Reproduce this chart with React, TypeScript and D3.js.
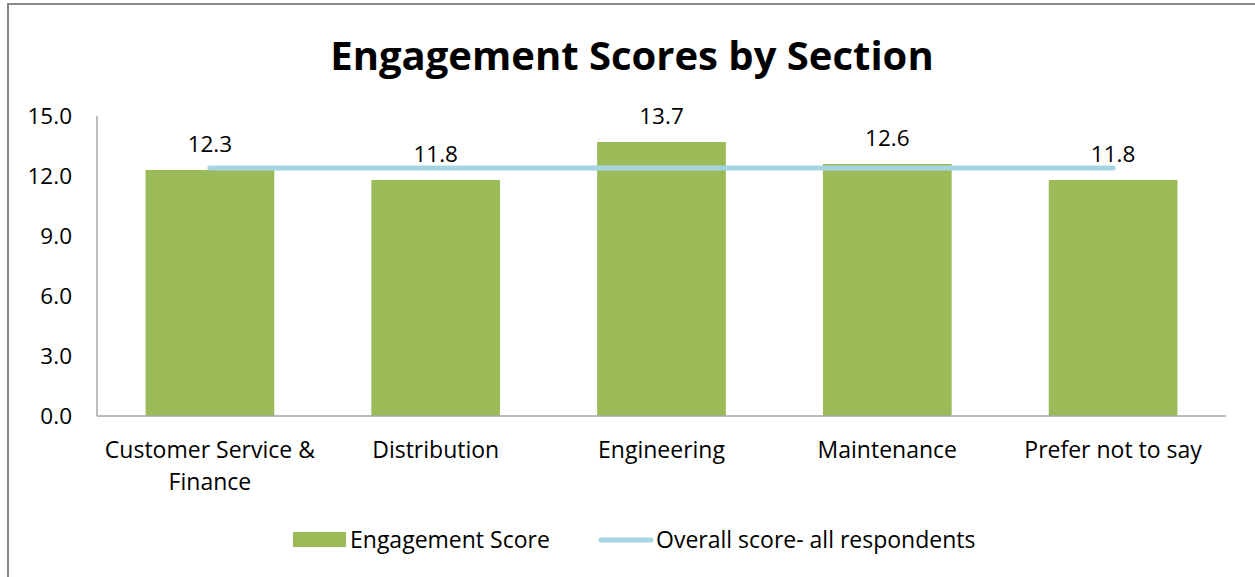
import React from 'react';
import * as d3 from 'd3';

const sections = ['Customer Service & Finance', 'Distribution', 'Engineering', 'Maintenance', 'Prefer not to say'];
const engagementScores = [12.3, 11.8, 13.7, 12.6, 11.8];
const overallScore = 12.4;
const yTicks = [0, 3, 6, 9, 12, 15];

const W = 1255;
const H = 577;
const margin = { top: 116, right: 29, bottom: 161, left: 97 };
const FONT = '"Open Sans", "Noto Sans", sans-serif';

// split long category labels the way the original wraps them
const wrapLabel = (s: string) => (s === 'Customer Service & Finance' ? ['Customer Service &', 'Finance'] : [s]);

const App = () => {
  const innerW = W - margin.left - margin.right;
  const innerH = H - margin.top - margin.bottom;

  const x = d3.scaleBand().domain(sections).range([0, innerW]).paddingInner(0.43).paddingOuter(0.215);
  const y = d3.scaleLinear().domain([0, 15]).range([innerH, 0]);

  const xCenter = (s: string) => (x(s) || 0) + x.bandwidth() / 2;
  const line = d3.line<string>().x(d => xCenter(d)).y(() => y(overallScore));

  return (
    <svg width={W} height={H} style={{ position: 'absolute', left: 0, top: 0, background: '#fff' }}>
      {/* chart frame */}
      <rect x={8} y={4} width={W + 10} height={H + 10} fill="none" stroke="#878787" strokeWidth={2} />

      <text x={632} y={70} textAnchor="middle" fontFamily={FONT} fontWeight="bold" fontSize={40} fill="#000">
        Engagement Scores by Section
      </text>

      <g transform={`translate(${margin.left},${margin.top})`}>
        {/* y axis labels */}
        {yTicks.map(t => (
          <text key={t} x={-25} y={y(t)} dy="0.35em" textAnchor="end" fontFamily={FONT} fontSize={22.5} fill="#000">
            {t.toFixed(1)}
          </text>
        ))}

        {/* bars */}
        {sections.map((s, i) => (
          <rect key={s} x={x(s)} y={y(engagementScores[i])} width={x.bandwidth()}
            height={innerH - y(engagementScores[i])} fill="#9BBB59" />
        ))}

        {/* overall line */}
        <path d={line(sections) || ''} fill="none" stroke="#A5D5E2" strokeWidth={5} strokeLinecap="round" />

        {/* data labels */}
        {sections.map((s, i) => (
          <text key={s} x={xCenter(s)} y={y(engagementScores[i]) - 18} textAnchor="middle"
            fontFamily={FONT} fontSize={22.5} fill="#000">
            {engagementScores[i].toFixed(1)}
          </text>
        ))}

        {/* axes lines */}
        <line x1={0} x2={0} y1={0} y2={innerH} stroke="#A6A6A6" strokeWidth={1.5} />
        <line x1={0} x2={innerW} y1={innerH} y2={innerH} stroke="#A6A6A6" strokeWidth={1.5} />

        {/* category labels */}
        {sections.map(s => (
          <text key={s} x={xCenter(s)} y={innerH + 42} textAnchor="middle" fontFamily={FONT} fontSize={23} fill="#000">
            {wrapLabel(s).map((l, j) => (
              <tspan key={j} x={xCenter(s)} dy={j === 0 ? 0 : 32}>{l}</tspan>
            ))}
          </text>
        ))}
      </g>

      {/* legend */}
      <rect x={293} y={532} width={53} height={15} fill="#9BBB59" />
      <text x={350} y={548} fontFamily={FONT} fontSize={23} fill="#000">Engagement Score</text>
      <line x1={601} x2={651} y1={540} y2={540} stroke="#A5D5E2" strokeWidth={5} strokeLinecap="round" />
      <text x={656} y={548} fontFamily={FONT} fontSize={23} fill="#000">Overall score- all respondents</text>
    </svg>
  );
};

export default App;
